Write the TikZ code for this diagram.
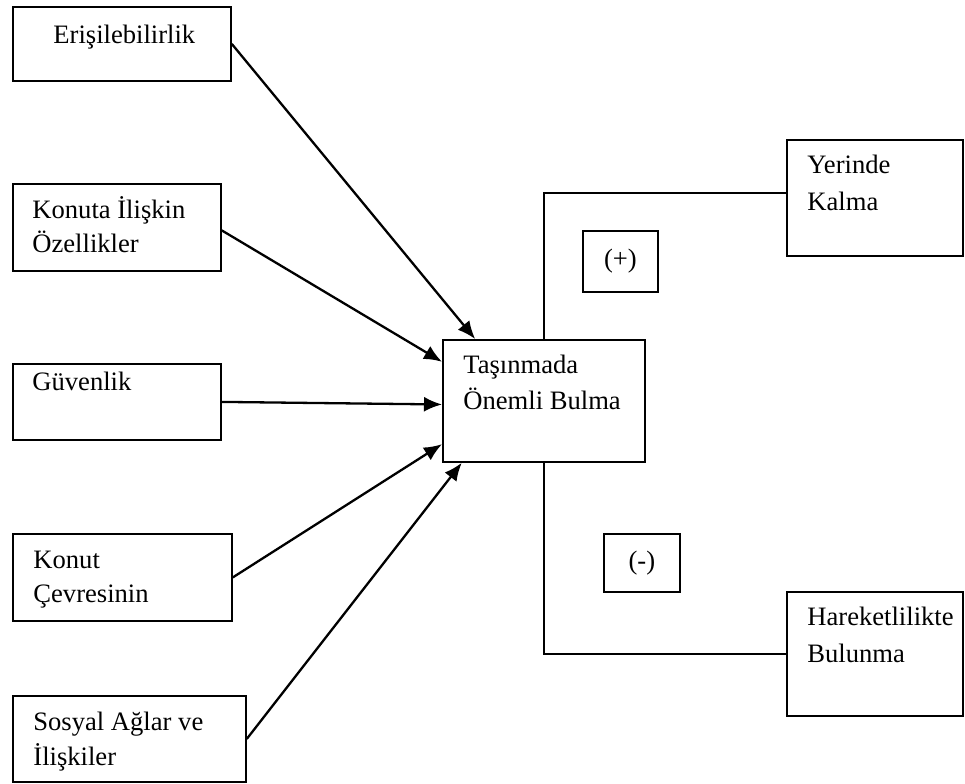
\documentclass[tikz,border=0pt]{standalone}
\usepackage{fontspec}
\setmainfont{Liberation Serif}
\usetikzlibrary{arrows.meta}

\tikzset{
    box/.style={draw, line width=0.9pt, inner sep=0pt, anchor=north west},
    txt/.style={anchor=base west, inner sep=0pt, font=\fontsize{13.3}{17.5}\selectfont},
    sign/.style={draw, line width=0.9pt, inner sep=0pt, anchor=north west, font=\fontsize{13.3}{17.5}\selectfont},
    arr/.style={-{Latex[length=9pt,width=7.5pt]}, line width=1.15pt},
    link/.style={line width=0.9pt},
}

\begin{document}
\begin{tikzpicture}[x=0.5pt,y=-0.5pt]
                \useasboundingbox (0,0) rectangle (965,783);

                % left side
                \node[box, minimum width=109pt, minimum height=37pt] (eris) at (12,6) {};
                \node[txt] (eris-a) at (53,43) {Erişilebilirlik};

                \node[box, minimum width=104pt, minimum height=43.5pt] (konuta) at (12,183) {};
                \node[txt] (konuta-a) at (32,218) {Konuta İlişkin};
                \node[txt] (konuta-b) at (32,252) {Özellikler};

                \node[box, minimum width=104pt, minimum height=38pt] (guv) at (12,363) {};
                \node[txt] (guv-a) at (32,390) {Güvenlik};

                \node[box, minimum width=109.5pt, minimum height=43.5pt] (cevre) at (12,533) {};
                \node[txt] (cevre-a) at (33,568) {Konut};
                \node[txt] (cevre-b) at (33,602) {Çevresinin};

                \node[box, minimum width=116.5pt, minimum height=43pt] (sosyal) at (12,695) {};
                \node[txt] (sosyal-a) at (33,730) {Sosyal Ağlar ve};
                \node[txt] (sosyal-b) at (33,765) {İlişkiler};

                % middle
                \node[box, minimum width=101pt, minimum height=61pt] (center) at (442,339) {};
                \node[txt] (center-a) at (463,373) {Taşınmada};
                \node[txt] (center-b) at (463,409) {Önemli Bulma};

                % right side
                \node[box, minimum width=88pt, minimum height=58pt] (yerinde) at (786,139) {};
                \node[txt] (yerinde-a) at (807,173) {Yerinde};
                \node[txt] (yerinde-b) at (807,210) {Kalma};

                \node[box, minimum width=88pt, minimum height=62pt] (hareket) at (786,591) {};
                \node[txt] (hareket-a) at (807,625) {Hareketlilikte};
                \node[txt] (hareket-b) at (807,662) {Bulunma};

                \node[sign, minimum width=37.5pt, minimum height=30.5pt] (plus) at (582,230) {(+)};
                \node[sign, minimum width=38pt, minimum height=29pt] (minus) at (603,533) {(-)};

                % connectors
                \draw[arr] (eris.east) -- (center.138);
                \draw[arr] ([yshift=-1.5pt]konuta.east) -- (center.159);
                \draw[arr] (guv.east) -- (center.182);
                \draw[arr] (cevre.east) -- (center.203);
                \draw[arr] (sosyal.east) -- (center.217);

                \draw[link] (center.north) |- ([yshift=2.5pt]yerinde.west);
                \draw[link] (center.south) |- (hareket.west);
            \end{tikzpicture}
\end{document}
